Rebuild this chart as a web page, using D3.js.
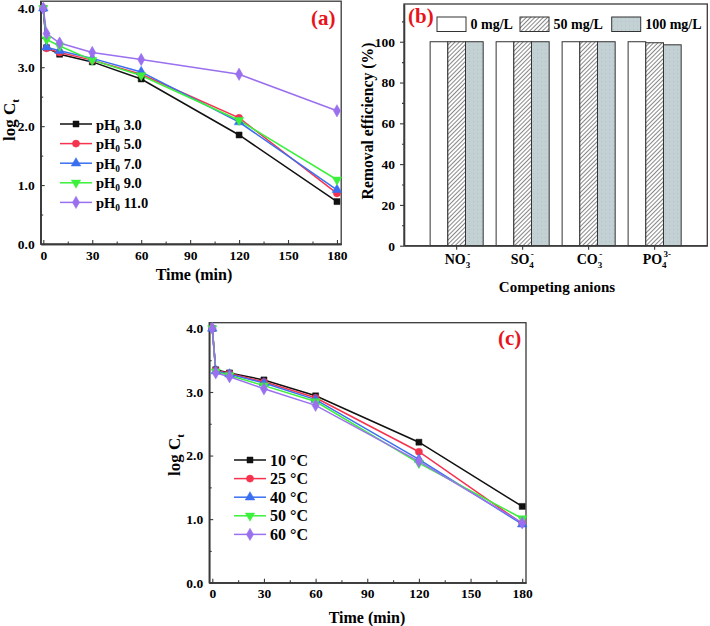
<!DOCTYPE html>
<html><head><meta charset="utf-8">
<script src="https://cdn.jsdelivr.net/npm/d3@7"></script>
<style>
body{margin:0;background:#fff;}
text{font-family:"Liberation Serif","Times New Roman",serif;font-weight:bold;}
</style></head>
<body>
<svg id="c" width="710" height="626"></svg>
<script>
// ---------- data ----------
const times = [0, 2, 10, 30, 60, 120, 180];
const phLabels = ["3.0", "5.0", "7.0", "9.0", "11.0"];
const ph3 = [4.0, 3.33, 3.22, 3.09, 2.80, 1.85, 0.72];
const ph5 = [4.0, 3.32, 3.25, 3.12, 2.88, 2.14, 0.86];
const ph7 = [4.0, 3.34, 3.28, 3.15, 2.92, 2.07, 0.92];
const ph9 = [4.0, 3.47, 3.36, 3.12, 2.86, 2.10, 1.09];
const ph11 = [4.0, 3.57, 3.41, 3.25, 3.13, 2.88, 2.26];

const tempLabels = ["10 \u00B0C", "25 \u00B0C", "40 \u00B0C", "50 \u00B0C", "60 \u00B0C"];
const t10 = [4.0, 3.35, 3.30, 3.19, 2.94, 2.21, 1.20];
const t25 = [4.0, 3.34, 3.29, 3.16, 2.91, 2.06, 0.93];
const t40 = [4.0, 3.33, 3.28, 3.14, 2.88, 1.94, 0.92];
const t50 = [4.0, 3.32, 3.26, 3.10, 2.85, 1.88, 1.01];
const t60 = [4.0, 3.30, 3.24, 3.05, 2.79, 1.91, 0.94];

const anions = ["NO3", "SO4", "CO3", "PO4"];
const concLabels = ["0 mg/L", "50 mg/L", "100 mg/L"];
const conc0 = [100, 100, 100, 100];
const conc50 = [100, 100, 100, 99.5];
const conc100 = [100, 100, 100, 98.5];

const xTicks = [0, 30, 60, 90, 120, 150, 180];
const xMinor = [15, 45, 75, 105, 135, 165];
const yTicks = [0, 1, 2, 3, 4];
const yMinor = [0.5, 1.5, 2.5, 3.5];
const bTicks = [0, 20, 40, 60, 80, 100];
const bMinor = [10, 30, 50, 70, 90, 110];

// ---------- styles ----------
const colors = ["#111111", "#f5334e", "#3a6ff0", "#3cf03c", "#9a70ef"];
const symbols = [d3.symbolSquare, d3.symbolCircle, d3.symbolTriangle, "down", d3.symbolDiamond];
const frameColor = "#3a3a3a";

const svg = d3.select("#c");
const defs = svg.append("defs");
const hatch = defs.append("pattern").attr("id", "hatch").attr("patternUnits", "userSpaceOnUse")
  .attr("width", 3).attr("height", 3).attr("patternTransform", "rotate(45)");
hatch.append("rect").attr("width", 3).attr("height", 3).attr("fill", "#fff");
hatch.append("line").attr("x1", 0).attr("y1", 0).attr("x2", 0).attr("y2", 3)
  .attr("stroke", "#555").attr("stroke-width", 1.4);
const dots = defs.append("pattern").attr("id", "dots").attr("patternUnits", "userSpaceOnUse")
  .attr("width", 4).attr("height", 4);
dots.append("rect").attr("width", 4).attr("height", 4).attr("fill", "#c3d1d5");
dots.append("rect").attr("x", 1).attr("y", 1).attr("width", 1).attr("height", 1).attr("fill", "#b2c2c7");

function marker(g, i, x, y) {
  const s = symbols[i];
  let p;
  if (s === "down") {
    p = g.append("path").attr("d", d3.symbol(d3.symbolTriangle, 38)()).attr("transform", `translate(${x},${y}) rotate(180)`);
  } else {
    const size = s === d3.symbolSquare ? 36 : (s === d3.symbolDiamond ? 44 : 40);
    p = g.append("path").attr("d", d3.symbol(s, size)()).attr("transform", `translate(${x},${y})`);
  }
  p.attr("fill", colors[i]).attr("stroke", colors[i]).attr("stroke-width", 0.5);
}

function styleAxis(g) {
  g.selectAll("path.domain").attr("stroke", frameColor).attr("stroke-width", 1.3);
  g.selectAll("line").attr("stroke", frameColor).attr("stroke-width", 1.1);
  g.selectAll("text").attr("font-size", 13.5).attr("fill", "#000")
    .style("font-family", '"Liberation Serif","Times New Roman",serif').style("font-weight", "bold");
}

function linePanel(opt) {
  const { x, y, series, labels, legendX, legendY, legendStep, legendFont, tag, tagX, tagY, titleX, titleY, ylabX, ylabY } = opt;
  const g = svg.append("g");
  const [x0, x1] = x.range(), [y0, y1] = y.range();
  // frame
  g.append("rect").attr("x", x0).attr("y", y1).attr("width", x1 - x0).attr("height", y0 - y1)
    .attr("fill", "none").attr("stroke", frameColor).attr("stroke-width", 1.3);
  // axes
  const ax = g.append("g").attr("transform", `translate(0,${y0})`)
    .call(d3.axisBottom(x).tickValues(xTicks).tickSize(-4).tickSizeOuter(0).tickPadding(6).tickFormat(d3.format("d")));
  styleAxis(ax);
  const axm = g.append("g").attr("transform", `translate(0,${y0})`)
    .call(d3.axisBottom(x).tickValues(xMinor).tickSize(-2.5).tickSizeOuter(0).tickFormat(""));
  styleAxis(axm);
  const ay = g.append("g").attr("transform", `translate(${x0},0)`)
    .call(d3.axisLeft(y).tickValues(yTicks).tickSize(-4).tickSizeOuter(0).tickPadding(6).tickFormat(d3.format(".1f")));
  styleAxis(ay);
  const aym = g.append("g").attr("transform", `translate(${x0},0)`)
    .call(d3.axisLeft(y).tickValues(yMinor).tickSize(-2.5).tickSizeOuter(0).tickFormat(""));
  styleAxis(aym);
  const line = d3.line().x((d, i) => x(times[i])).y(d => y(d));
  series.forEach((s, i) => {
    g.append("path").datum(s).attr("d", line).attr("fill", "none")
      .attr("stroke", colors[i]).attr("stroke-width", 1.5);
  });
  series.forEach((s, i) => {
    s.forEach((v, j) => marker(g, i, x(times[j]), y(v)));
  });
  // legend
  labels.forEach((lab, i) => {
    const ly = legendY + i * legendStep;
    g.append("line").attr("x1", legendX).attr("x2", legendX + 32).attr("y1", ly).attr("y2", ly)
      .attr("stroke", colors[i]).attr("stroke-width", 1.5);
    marker(g, i, legendX + 16, ly);
    const t = g.append("text").attr("x", legendX + 36).attr("y", ly + 5.5).attr("font-size", legendFont);
    if (opt.ph) {
      t.append("tspan").text("pH");
      t.append("tspan").attr("font-size", legendFont * 0.65).attr("dy", 3).text("0");
      t.append("tspan").attr("dy", -3).text(" " + lab);
    } else {
      t.text(lab);
    }
  });
  // tag
  g.append("text").attr("x", tagX).attr("y", tagY).attr("font-size", 21).attr("fill", "#e8141b").text(tag);
  // titles
  g.append("text").attr("x", titleX).attr("y", titleY).attr("text-anchor", "middle").attr("font-size", 16).text("Time (min)");
  const yl = g.append("text").attr("transform", `translate(${ylabX},${ylabY}) rotate(-90)`)
    .attr("text-anchor", "middle").attr("font-size", 17);
  yl.append("tspan").text("log C");
  yl.append("tspan").attr("font-size", 11).attr("dy", 4).text("t");
}

// ---------- panel (a) ----------
const xA = d3.scaleLinear().domain([-1.6, 182.6]).range([40.7, 341.2]);
const yA = d3.scaleLinear().domain([0, 4.12]).range([244, 1.2]);
linePanel({ x: xA, y: yA, series: [ph3, ph5, ph7, ph9, ph11], labels: phLabels, ph: true,
  legendX: 60, legendY: 124, legendStep: 19.6, legendFont: 14.5,
  tag: "(a)", tagX: 311, tagY: 25, titleX: 194, titleY: 280, ylabX: 15, ylabY: 120 });

// ---------- panel (c) ----------
const xC = d3.scaleLinear().domain([-1.8, 182.2]).range([209.2, 526]);
const yC = d3.scaleLinear().domain([0, 4.09]).range([582.7, 322.7]);
linePanel({ x: xC, y: yC, series: [t10, t25, t40, t50, t60], labels: tempLabels, ph: false,
  legendX: 234, legendY: 460, legendStep: 18.6, legendFont: 16,
  tag: "(c)", tagX: 498, tagY: 345, titleX: 367, titleY: 623, ylabX: 180, ylabY: 455 });

// ---------- panel (b) ----------
const xB = d3.scaleBand().domain(anions).range([404, 707.3]).paddingInner(0).paddingOuter(0.298);
const yB = d3.scaleLinear().domain([0, 118.5]).range([245.7, 4]);
const barW = xB.bandwidth() * 0.268;
const gB = svg.append("g");
const fills = ["#ffffff", "url(#hatch)", "url(#dots)"];
const concSeries = [conc0, conc50, conc100];
concSeries.forEach((s, k) => {
  s.forEach((v, i) => {
    const cx = xB(anions[i]) + xB.bandwidth() / 2;
    gB.append("rect").attr("x", cx + (k - 1.5) * barW).attr("y", yB(v))
      .attr("width", barW).attr("height", yB(0) - yB(v))
      .attr("fill", fills[k]).attr("stroke", "#333").attr("stroke-width", 1);
  });
});
gB.append("rect").attr("x", 404).attr("y", 4).attr("width", 707.3 - 404).attr("height", 245.7 - 4)
  .attr("fill", "none").attr("stroke", frameColor).attr("stroke-width", 1.3);
const bY = gB.append("g").attr("transform", "translate(404,0)")
  .call(d3.axisLeft(yB).tickValues(bTicks).tickSize(4).tickSizeOuter(0).tickPadding(5));
styleAxis(bY);
const bYm = gB.append("g").attr("transform", "translate(404,0)")
  .call(d3.axisLeft(yB).tickValues(bMinor).tickSize(2).tickSizeOuter(0).tickFormat(""));
styleAxis(bYm);
const bX = gB.append("g").attr("transform", "translate(0,245.7)")
  .call(d3.axisBottom(xB).tickSize(4).tickSizeOuter(0).tickFormat(""));
styleAxis(bX);
const subs = { NO3: ["NO", "3", "-"], SO4: ["SO", "4", "-"], CO3: ["CO", "3", "-"], PO4: ["PO", "4", "3-"] };
anions.forEach(a => {
  const cx = xB(a) + xB.bandwidth() / 2;
  const t = gB.append("text").attr("x", cx - 12).attr("y", 264).attr("font-size", 14);
  t.append("tspan").text(subs[a][0]);
  t.append("tspan").attr("font-size", 9).attr("dy", 4).text(subs[a][1]);
  t.append("tspan").attr("font-size", 9).attr("dy", -11).attr("dx", -3).text(subs[a][2]);
});
gB.append("text").attr("x", 557).attr("y", 292).attr("text-anchor", "middle").attr("font-size", 15).text("Competing anions");
gB.append("text").attr("transform", "translate(373,121) rotate(-90)").attr("text-anchor", "middle")
  .attr("font-size", 15.7).text("Removal efficiency (%)");
gB.append("text").attr("x", 408).attr("y", 23).attr("font-size", 21).attr("fill", "#e8141b").text("(b)");
// legend (b)
const legX = [437, 520, 611.7];
concLabels.forEach((lab, k) => {
  gB.append("rect").attr("x", legX[k]).attr("y", 17).attr("width", 29).attr("height", 14.5)
    .attr("fill", fills[k]).attr("stroke", "#333").attr("stroke-width", 1);
  gB.append("text").attr("x", legX[k] + 33.5).attr("y", 29).attr("font-size", 14).text(lab);
});
</script>
</body></html>
